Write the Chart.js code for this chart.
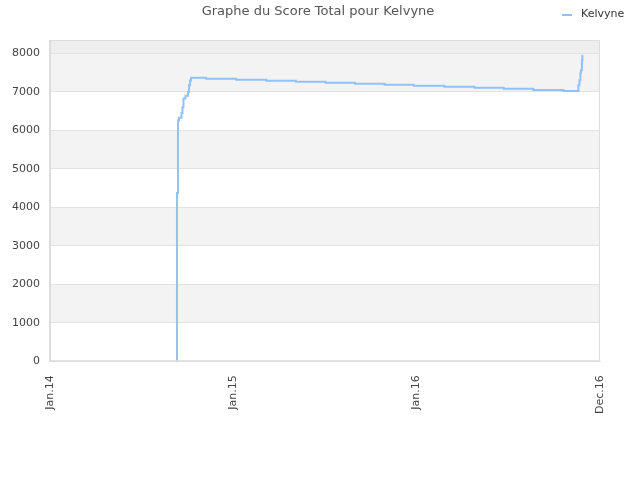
<!DOCTYPE html>
<html>
<head>
<meta charset="utf-8">
<script src="https://cdn.jsdelivr.net/npm/chart.js@4"></script>
<style>
  html, body { margin: 0; padding: 0; background: #fff; }
  #wrap { width: 640px; height: 480px; }
</style>
</head>
<body>
<div id="wrap"><canvas id="myChart"></canvas></div>
<script>
// days counted from 1 Jan 2014
const days = [253, 253, 255, 257, 262, 264, 266, 270, 275, 277, 279, 281,
  311, 371, 431, 490, 549, 608, 667, 725, 786, 846, 904, 963, 1023,
  1053, 1055, 1057, 1058, 1060, 1061];
const scores = [0, 4375, 6260, 6330, 6450, 6600, 6830, 6900, 7000, 7175, 7300, 7366,
  7340, 7314, 7288, 7262, 7236, 7210, 7184, 7158, 7132, 7106, 7080, 7052, 7025,
  7175, 7305, 7490, 7566, 7827, 7957];
const tickDays = [0, 365, 730, 1096];
const tickLabels = ['Jan.14', 'Jan.15', 'Jan.16', 'Dec.16'];
const yTicks = [0, 1000, 2000, 3000, 4000, 5000, 6000, 7000, 8000];

const points = days.map((d, i) => ({ x: d, y: scores[i] }));
const lineColor = '#90c2f6';

Chart.defaults.font.family = 'DejaVu Sans';
Chart.defaults.font.size = 11;
Chart.defaults.color = '#444';

// grey bands behind the plot, frame, title and legend
const decor = {
  id: 'decor',
  beforeDraw(chart) {
    const { ctx, chartArea: a, scales: { y } } = chart;
    ctx.save();
    for (let k = 1; k < 8; k += 2) {
      const top = y.getPixelForValue((k + 1) * 1000);
      const bot = y.getPixelForValue(k * 1000);
      ctx.fillStyle = '#f3f3f3';
      ctx.fillRect(a.left, top, a.right - a.left, bot - top);
    }
    const t8 = y.getPixelForValue(8000);
    ctx.fillStyle = '#eeeeee';
    ctx.fillRect(a.left, a.top, a.right - a.left, t8 - a.top);
    ctx.restore();
  },
  afterDraw(chart) {
    const { ctx, chartArea: a } = chart;
    ctx.save();
    ctx.strokeStyle = '#dddddd';
    ctx.lineWidth = 1;
    ctx.strokeRect(a.left + 0.5, a.top + 0.5, a.right - a.left - 1, a.bottom - a.top - 1);

    ctx.fillStyle = '#555';
    ctx.font = '13px "DejaVu Sans"';
    ctx.textAlign = 'center';
    ctx.textBaseline = 'middle';
    ctx.fillText('Graphe du Score Total pour Kelvyne', 318, 12);

    const label = chart.data.datasets[0].label;
    ctx.strokeStyle = lineColor;
    ctx.lineWidth = 2;
    ctx.beginPath();
    ctx.moveTo(562, 15);
    ctx.lineTo(572, 15);
    ctx.stroke();
    ctx.fillStyle = '#333';
    ctx.font = '11px "DejaVu Sans"';
    ctx.textAlign = 'left';
    ctx.fillText(label, 581, 14);
    ctx.restore();
  }
};

new Chart(document.getElementById('myChart'), {
  type: 'line',
  data: {
    datasets: [{
      label: 'Kelvyne',
      data: points,
      borderColor: lineColor,
      backgroundColor: lineColor,
      borderWidth: 2,
      pointRadius: 0,
      stepped: true,
      fill: false
    }]
  },
  options: {
    responsive: true,
    maintainAspectRatio: false,
    animation: false,
    layout: { padding: { left: 2, right: 40, top: 40, bottom: 60 } },
    plugins: {
      title: { display: false },
      tooltip: { enabled: false },
      legend: { display: false }
    },
    scales: {
      x: {
        type: 'linear',
        min: 0,
        max: 1096,
        afterBuildTicks: (s) => { s.ticks = tickDays.map(v => ({ value: v })); },
        ticks: {
          minRotation: 90,
          maxRotation: 90,
          padding: 6,
          callback: (v) => tickLabels[tickDays.indexOf(v)]
        },
        grid: { display: false },
        border: { color: '#dddddd' }
      },
      y: {
        min: 0,
        max: 8350,
        afterBuildTicks: (s) => { s.ticks = yTicks.map(v => ({ value: v })); },
        ticks: { padding: 10, callback: (v) => String(v) },
        grid: { color: '#e2e2e2', drawTicks: false },
        border: { color: '#dddddd' }
      }
    }
  },
  plugins: [decor]
});
</script>
</body>
</html>
